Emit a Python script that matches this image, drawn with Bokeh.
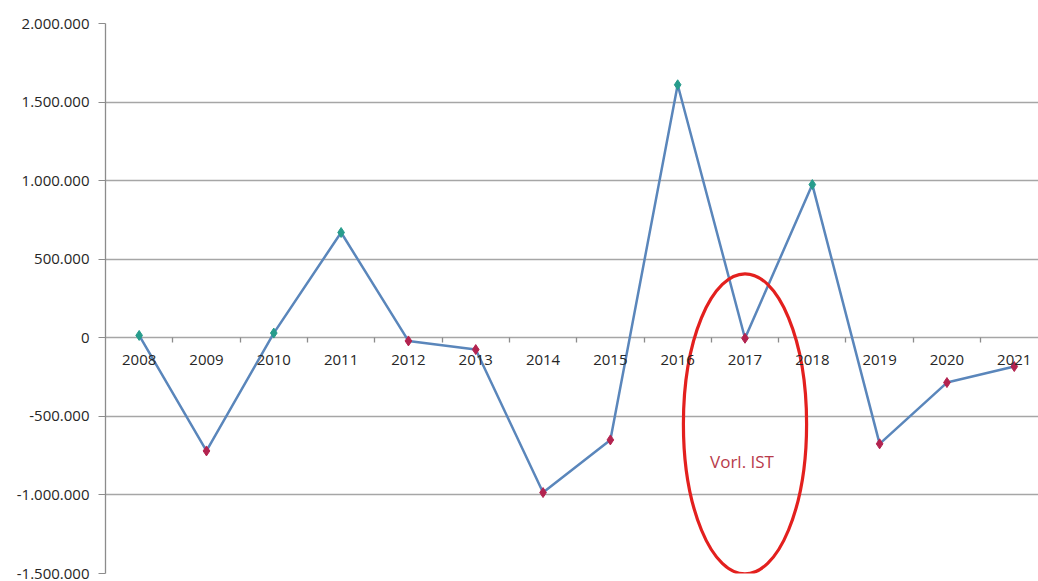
from bokeh.plotting import figure
from bokeh.models import FixedTicker, ColumnDataSource, Range1d
from bokeh.core.properties import value
from bokeh.embed import file_html
from bokeh.resources import INLINE

# Jahresergebnis je Jahr
years = ["2008", "2009", "2010", "2011", "2012", "2013", "2014",
         "2015", "2016", "2017", "2018", "2019", "2020", "2021"]
values = [15000, -720000, 30000, 670000, -20000, -75000, -985000,
          -650000, 1610000, -3000, 975000, -675000, -285000, -183000]

y_ticks = [-1500000, -1000000, -500000, 0, 500000, 1000000, 1500000, 2000000]
y_tick_labels = ["-1.500.000", "-1.000.000", "-500.000", "0",
                 "500.000", "1.000.000", "1.500.000", "2.000.000"]

# Markierung für das vorläufige Ist-Jahr
note_year = "2017"
note_text = "Vorl. IST"
note_center_y = -548000
note_height = 1910000
note_width = 1.83
note_text_y = -790000

FONT = "Open Sans"
POS_COLOR = "#279c8c"
NEG_COLOR = "#b3234f"

xs = list(range(len(years)))
src = ColumnDataSource(dict(
    x=xs,
    y=values,
    color=[POS_COLOR if v >= 0 else NEG_COLOR for v in values],
))

p = figure(width=1038, height=581, output_backend="svg", toolbar_location=None,
           x_range=Range1d(-0.5, 13.36), y_range=Range1d(-1500000, 2000000),
           min_border_left=105, min_border_right=0, min_border_top=23,
           min_border_bottom=8)
p.outline_line_color = None
p.background_fill_color = "white"
p.border_fill_color = "white"

# Gitternetz
p.xgrid.grid_line_color = None
p.ygrid.grid_line_color = "#a6a6a6"
p.ygrid.grid_line_width = 1.3

# y-Achse
p.yaxis.ticker = FixedTicker(ticks=y_ticks)
p.yaxis.major_label_overrides = {t: l for t, l in zip(y_ticks, y_tick_labels)}
p.yaxis.axis_line_color = "#8c8c8c"
p.yaxis.axis_line_width = 1.3
p.yaxis.major_tick_line_color = "#8c8c8c"
p.yaxis.major_tick_out = 7
p.yaxis.major_tick_in = 0
p.yaxis.minor_tick_line_color = None
p.yaxis.major_label_text_font = FONT
p.yaxis.major_label_text_font_size = "15px"
p.yaxis.major_label_text_color = "#262626"
p.yaxis.major_label_standoff = 9

# x-Achse auf der Nulllinie
p.xaxis.fixed_location = 0
p.xaxis.ticker = FixedTicker(ticks=xs, minor_ticks=[i + 0.5 for i in xs])
p.xaxis.major_label_overrides = {i: y for i, y in zip(xs, years)}
p.xaxis.axis_line_color = None
p.xaxis.major_tick_line_color = None
p.xaxis.minor_tick_line_color = "#8c8c8c"
p.xaxis.minor_tick_line_width = 1.3
p.xaxis.minor_tick_out = 5
p.xaxis.minor_tick_in = 0
p.xaxis.major_label_text_font = FONT
p.xaxis.major_label_text_font_size = "15px"
p.xaxis.major_label_text_color = "#262626"
p.xaxis.major_label_standoff = 11

p.line("x", "y", source=src, line_color="#5a86bb", line_width=2.5)
p.scatter("x", "y", source=src, marker="diamond", size=10,
          fill_color="color", line_color="color")

nx = years.index(note_year)
p.ellipse(x=[nx], y=[note_center_y], width=[note_width], height=[note_height],
          fill_color=None, line_color="#e3201e", line_width=3.2)
p.text(x=[nx], y=[note_text_y], text=[note_text], text_font=value(FONT),
       text_font_size="17px", text_color="#b83a4a", text_align="center",
       text_baseline="middle", x_offset=-3)

open("out.html", "w").write(file_html(p, INLINE))
